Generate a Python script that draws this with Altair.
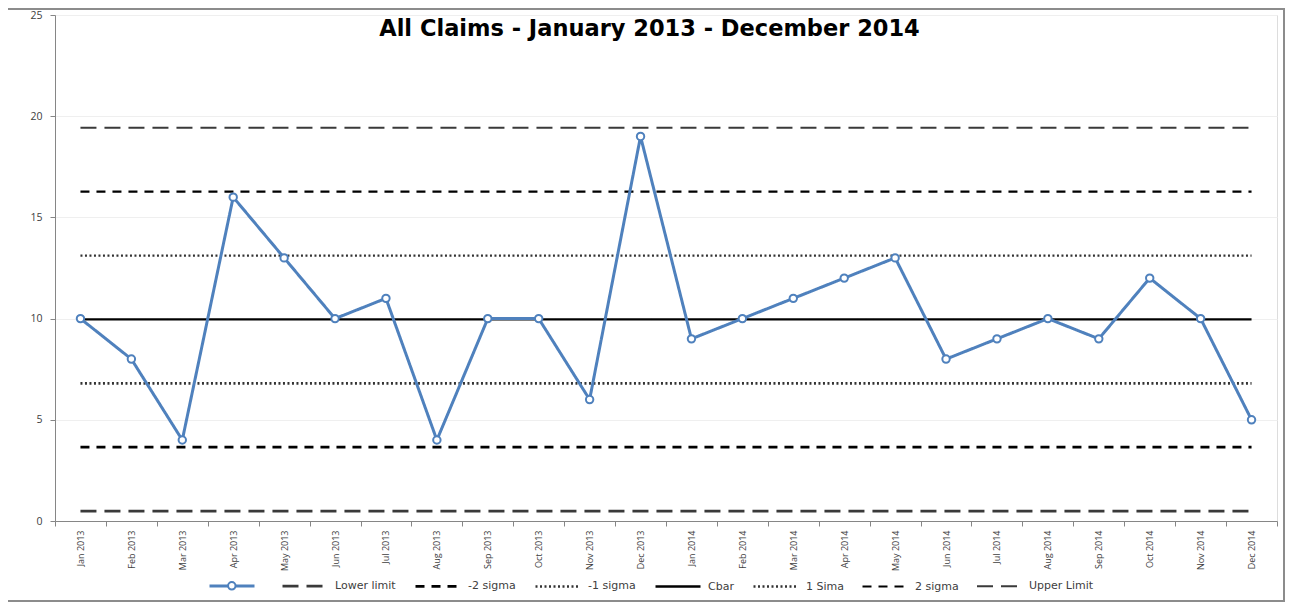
import altair as alt
import pandas as pd

months = ["Jan 2013", "Feb 2013", "Mar 2013", "Apr 2013", "May 2013", "Jun 2013",
          "Jul 2013", "Aug 2013", "Sep 2013", "Oct 2013", "Nov 2013", "Dec 2013",
          "Jan 2014", "Feb 2014", "Mar 2014", "Apr 2014", "May 2014", "Jun 2014",
          "Jul 2014", "Aug 2014", "Sep 2014", "Oct 2014", "Nov 2014", "Dec 2014"]
claims = [10, 8, 4, 16, 13, 10, 11, 4, 10, 10, 6, 19,
          9, 10, 11, 12, 13, 8, 9, 10, 9, 12, 10, 5]

limit_names = ["Lower limit", "-2 sigma", "-1 sigma", "Cbar", "1 Sima", "2 sigma", "Upper Limit"]
limit_values = [0.49, 3.65, 6.80, 9.96, 13.11, 16.27, 19.43]

series_order = ["Claims"] + limit_names
series_colors = ["#4F81BD", "#3a3a3a", "#000000", "#333333", "#000000", "#333333", "#000000", "#3a3a3a"]
series_dash = [[1, 0], [16, 8], [9, 7], [2, 2.5], [1, 0], [2, 2.5], [9, 7], [16, 8]]
series_width = [3, 2, 2, 2, 1.6, 2, 2, 2]

title_text = "All Claims - January 2013 - December 2014"

rows = [{"month": m, "value": v, "series": "Claims"} for m, v in zip(months, claims)]
for name, val in zip(limit_names, limit_values):
    rows.append({"month": months[0], "value": val, "series": name})
    rows.append({"month": months[-1], "value": val, "series": name})
df = pd.DataFrame(rows)
pts = pd.DataFrame({"month": months, "value": claims, "marker": ["pt"] * len(months)})

W, H = 1222, 506
FONT = "Open Sans"
WIDE = "DejaVu Sans"
BLUE = "#4F81BD"

x_enc = alt.X("month:N", sort=months,
              scale=alt.Scale(type="band", domain=months, paddingInner=0, paddingOuter=0),
              axis=alt.Axis(title=None, labelAngle=-90, labelFontSize=9, labelFont=FONT,
                            labelColor="#404040", tickBand="extent", tickSize=5,
                            tickColor="#868686", domainColor="#868686", labelPadding=4,
                            grid=False))
y_enc = alt.Y("value:Q",
              scale=alt.Scale(domain=[0, 25], nice=False),
              axis=alt.Axis(title=None, values=[0, 5, 10, 15, 20, 25], labelFontSize=10.5,
                            labelFont=FONT, labelColor="#404040", tickSize=5,
                            tickColor="#868686", domainColor="#868686", labelPadding=8,
                            grid=True, gridColor="#efefef"))

legend = alt.Legend(orient="none", legendX=153, legendY=547, direction="horizontal",
                    title=None, symbolType="stroke", symbolSize=2025,
                    labelFont=WIDE, labelFontSize=11, labelColor="#404040",
                    columnPadding=14, labelOffset=6, padding=0,
                    labelExpr="datum.label == 'Claims' ? '' : datum.label")

color_enc = alt.Color("series:N", scale=alt.Scale(domain=series_order, range=series_colors),
                      legend=legend)
dash_enc = alt.StrokeDash("series:N", scale=alt.Scale(domain=series_order, range=series_dash),
                          legend=legend)
width_enc = alt.StrokeWidth("series:N", scale=alt.Scale(domain=series_order, range=series_width),
                            legend=legend)

base = alt.Chart(df)
limits = base.transform_filter(alt.datum.series != "Claims").mark_line(strokeCap="butt").encode(
    x=x_enc, y=y_enc, color=color_enc, strokeDash=dash_enc, strokeWidth=width_enc,
    detail="series:N")
claims_line = base.transform_filter(alt.datum.series == "Claims").mark_line().encode(
    x=x_enc, y=y_enc, color=color_enc, strokeDash=dash_enc, strokeWidth=width_enc)

pt_legend = alt.Legend(orient="none", legendX=171.8, legendY=565.8,
                       title=None, symbolSize=55, symbolFillColor="white",
                       symbolStrokeWidth=2, symbolOpacity=1,
                       labelExpr="''", padding=0)
points = alt.Chart(pts).mark_point(filled=False, fill="white", strokeWidth=2, size=55,
                                   opacity=1).encode(
    x=x_enc, y=y_enc,
    stroke=alt.Stroke("marker:N", scale=alt.Scale(domain=["pt"], range=[BLUE]), legend=pt_legend),
    shape=alt.Shape("marker:N", scale=alt.Scale(domain=["pt"], range=["circle"]), legend=pt_legend))

frame_df = pd.DataFrame({"t": [title_text]})
frame = alt.Chart(frame_df).mark_rect(fill=None, stroke="#8c8c8c", strokeWidth=2).encode(
    x=alt.value(-48), x2=alt.value(1229), y=alt.value(-6), y2=alt.value(586))
title = alt.Chart(frame_df).mark_text(font=WIDE, fontSize=22.5, fontWeight="bold",
                                      color="#000000", align="center", baseline="middle").encode(
    x=alt.value(594.5), y=alt.value(14), text="t:N")

chart = alt.layer(limits, claims_line, points, frame, title).properties(
    width=W, height=H,
    autosize=alt.AutoSizeParams(type="none"),
    padding={"left": 47, "top": 7, "right": 8, "bottom": 82},
).configure_view(stroke=None).configure(background="white")

chart.save("out.html", embed_options={"renderer": "svg", "actions": False})
